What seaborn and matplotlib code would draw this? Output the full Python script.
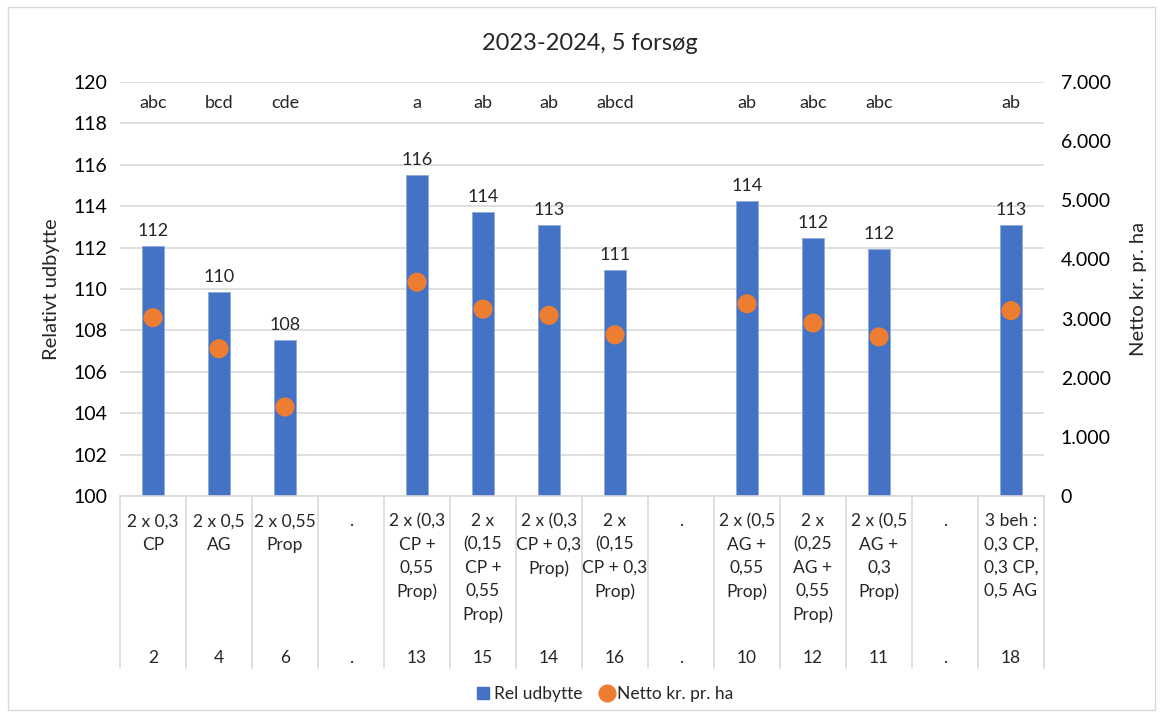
import numpy as np
import pandas as pd
import matplotlib.pyplot as plt
import seaborn as sns
from matplotlib.patches import Rectangle
from matplotlib.lines import Line2D

# data
slots = ["2", "4", "6", "sep1", "13", "15", "14", "16", "sep2", "10", "12", "11", "sep3", "18"]
treatments = ["2 x 0,3\nCP", "2 x 0,5\nAG", "2 x 0,55\nProp", ".",
              "2 x (0,3\nCP +\n0,55\nProp)", "2 x\n(0,15\nCP +\n0,55\nProp)",
              "2 x (0,3\nCP + 0,3\nProp)", "2 x\n(0,15\nCP + 0,3\nProp)", ".",
              "2 x (0,5\nAG +\n0,55\nProp)", "2 x\n(0,25\nAG +\n0,55\nProp)",
              "2 x (0,5\nAG +\n0,3\nProp)", ".",
              "3 beh :\n0,3 CP,\n0,3 CP,\n0,5 AG"]
numbers = ["2", "4", "6", ".", "13", "15", "14", "16", ".", "10", "12", "11", ".", "18"]
rel_udbytte = [112.08, 109.85, 107.52, np.nan, 115.5, 113.72, 113.1, 110.9, np.nan,
               114.25, 112.46, 111.95, np.nan, 113.1]
netto = [3015, 2490, 1505, np.nan, 3615, 3160, 3055, 2725, np.nan,
         3250, 2925, 2690, np.nan, 3135]
letters = ["abc", "bcd", "cde", "", "a", "ab", "ab", "abcd", "", "ab", "abc", "abc", "", "ab"]

BLUE = "#4472C4"
ORANGE = "#ED7D31"
GRID = "#D9D9D9"
TXT = "#000000"

sns.set_style("white")
plt.rcParams["font.family"] = ["Lato", "DejaVu Sans"]

df = pd.DataFrame({"slot": slots, "rel": rel_udbytte, "netto": netto, "pos": np.arange(len(slots))})

fig = plt.figure(figsize=(11.63, 7.17), dpi=100)
ax = fig.add_axes([120 / 1163, 1 - 496 / 717, (1044 - 120) / 1163, (496 - 82) / 717])

sns.barplot(data=df, x="slot", y="rel", order=slots, color=BLUE, width=0.32,
            saturation=1, edgecolor="#8FAADC", linewidth=0.6, ax=ax, zorder=2)
ax.set_xlim(-0.5, len(slots) - 0.5)
ax.set_ylim(100, 120)
ax.set_yticks(range(100, 121, 2))
ax.tick_params(axis="y", labelsize=14, length=0, pad=9, colors=TXT)
ax.grid(axis="y", color=GRID, linewidth=1.2, zorder=0)
ax.set_axisbelow(True)
for s in ["left", "right", "top"]:
    ax.spines[s].set_visible(False)
ax.spines["bottom"].set_color(GRID)
ax.spines["bottom"].set_linewidth(1.2)
ax.set_xticks([])
ax.set_xlabel("")
ax.set_ylabel("Relativt udbytte", fontsize=14.5, labelpad=10)

# value labels and significance letters
for i, v in enumerate(rel_udbytte):
    if not np.isnan(v):
        ax.annotate(f"{v:.0f}", (i, v), xytext=(0, 5), textcoords="offset points",
                    ha="center", va="bottom", fontsize=13)
    ax.text(i, 119.0, letters[i], ha="center", va="center", fontsize=13)

# secondary axis with net income
ax2 = ax.twinx()
pts = df.dropna(subset=["netto"])
sns.scatterplot(x=pts["pos"], y=pts["netto"], color=ORANGE, s=190, edgecolor="none",
                ax=ax2, zorder=3, legend=False)
ax2.set_ylim(0, 7000)
ax2.set_yticks(range(0, 7001, 1000))
ax2.set_yticklabels(["0"] + [f"{k}.000" for k in range(1, 8)])
ax2.tick_params(axis="y", labelsize=14, length=0, pad=12, colors=TXT)
for s in ["left", "right", "top", "bottom"]:
    ax2.spines[s].set_visible(False)
ax2.set_ylabel("Netto kr. pr. ha", fontsize=14.5, labelpad=14)
ax2.set_xlim(-0.5, len(slots) - 0.5)

# multi-level category axis
trans = ax.get_xaxis_transform()
for i in range(len(slots)):
    ax.text(i, -0.042, treatments[i], transform=trans, ha="center", va="top",
            fontsize=12.5, linespacing=1.55)
    ax.text(i, -0.392, numbers[i], transform=trans, ha="center", va="center", fontsize=12.5)
for b in np.arange(-0.5, len(slots), 1.0):
    ax.add_line(Line2D([b, b], [0, -0.415], transform=trans, color=GRID,
                       linewidth=1.2, clip_on=False))

fig.suptitle("2023-2024, 5 forsøg", x=0.507, y=1 - 44 / 717, va="center", fontsize=17)

handles = [Line2D([], [], marker="s", linestyle="none", color=BLUE, markersize=9),
           Line2D([], [], marker="o", linestyle="none", color=ORANGE, markersize=12)]
fig.legend(handles, ["Rel udbytte", "Netto kr. pr. ha"], loc="center",
           bbox_to_anchor=(0.52, 1 - 694 / 717), ncol=2, frameon=False, fontsize=12.5,
           handlelength=0.8, handletextpad=0.2, columnspacing=1.0)

fig.patches.append(Rectangle((8 / 1163, 7 / 717), 1147 / 1163, 703 / 717,
                             transform=fig.transFigure, fill=False,
                             edgecolor="#D9D9D9", linewidth=1))

fig.savefig("out.png", dpi=100)
